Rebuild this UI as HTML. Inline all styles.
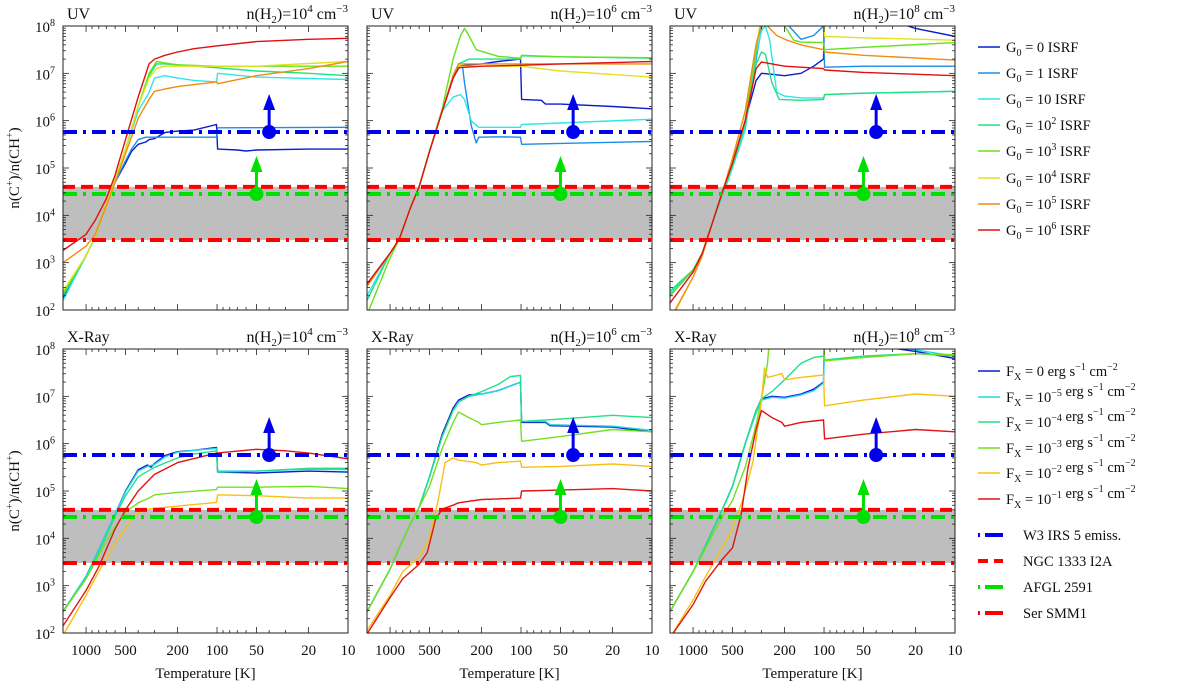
<!DOCTYPE html>
<html><head><meta charset="utf-8">
<style>
html,body{margin:0;padding:0;background:#fff;}
svg{display:block;font-family:"Liberation Serif",serif;}
</style></head>
<body>
<svg id="chart" width="1200" height="683" viewBox="0 0 1200 683" xmlns="http://www.w3.org/2000/svg"></svg>
<script>
// ===== Data (log10 of n(C+)/n(CH+) vs temperature [K]) =====
const uvLabels = ['0','1','10','10^2','10^3','10^4','10^5','10^6'];
const xLabels = ['0','-5','-4','-3','-2','-1'];
const uvColors = ['#0a1ed0','#1a8ee6','#30e6e6','#22e080','#66e020','#e2e21e','#f28c12','#e01010'];
const xColors = ['#0a1ed0','#22d6ea','#22e08a','#74e020','#f8c012','#e01414'];

// UV n=1e4
const uv4_g0=[[1500,2.25],[1000,3.15],[850,3.55],[700,4.25],[600,4.7],[500,5.1],[450,5.35],[400,5.5],[350,5.55],[330,5.6],[300,5.62],[250,5.75],[200,5.78],[150,5.8],[101,5.92],[99,5.4],[70,5.38],[60,5.36],[50,5.38],[20,5.4],[10,5.4]];
const uv4_g1=[[1500,2.3],[1000,3.15],[850,3.55],[700,4.25],[600,4.7],[500,5.15],[450,5.4],[400,5.6],[350,5.65],[300,5.65],[101,5.65],[99,5.85],[10,5.86]];
const uv4_g10=[[1500,2.2],[1000,3.15],[850,3.55],[700,4.25],[600,4.75],[500,5.4],[400,6.2],[330,6.6],[300,6.9],[250,6.95],[200,6.9],[150,6.85],[101,6.82],[99,7.0],[50,6.92],[10,6.87]];
const uv4_g100=[[1500,2.3],[1000,3.15],[850,3.55],[700,4.25],[600,4.75],[500,5.4],[400,6.3],[330,6.95],[290,7.2],[250,7.2],[200,7.18],[101,7.12],[50,7.05],[20,7.0],[10,6.95]];
const uv4_g1e3=[[1500,2.35],[1000,3.15],[850,3.55],[700,4.25],[600,4.75],[500,5.4],[400,6.3],[330,7.0],[290,7.25],[250,7.22],[200,7.18],[101,7.15],[50,7.15],[10,7.15]];
const uv4_g1e4=[[1500,2.4],[1000,3.15],[850,3.55],[700,4.25],[600,4.75],[500,5.4],[400,6.3],[330,6.9],[290,7.1],[250,7.15],[200,7.15],[101,7.15],[50,7.15],[10,7.25]];
const uv4_g1e5=[[1500,3.0],[1000,3.35],[850,3.6],[700,4.2],[600,4.7],[500,5.3],[400,6.05],[330,6.45],[300,6.62],[250,6.67],[200,6.72],[101,6.82],[99,6.78],[50,6.95],[20,7.1],[10,7.25]];
const uv4_g1e6=[[1500,3.26],[1000,3.6],[850,3.9],[700,4.35],[600,4.85],[500,5.6],[400,6.5],[330,7.2],[300,7.3],[250,7.38],[200,7.45],[150,7.52],[101,7.58],[50,7.67],[20,7.72],[10,7.74]];
// UV n=1e6
const uv6_g0=[[1500,2.55],[1000,3.2],[850,3.5],[700,4.15],[600,4.6],[500,5.35],[400,6.2],[330,6.9],[300,7.15],[250,7.18],[200,7.2],[150,7.25],[101,7.3],[99,6.45],[70,6.43],[65,6.35],[50,6.35],[20,6.3],[10,6.25]];
const uv6_g1=[[1500,2.5],[1000,3.2],[850,3.5],[700,4.15],[600,4.6],[500,5.35],[400,6.2],[330,6.9],[300,7.1],[280,7.15],[270,6.8],[240,5.9],[220,5.53],[210,5.65],[150,5.66],[101,5.65],[99,5.5],[50,5.52],[10,5.56]];
const uv6_g10=[[1500,2.3],[1000,3.2],[850,3.5],[700,4.15],[600,4.6],[500,5.35],[400,6.2],[330,6.5],[290,6.55],[270,6.45],[240,6.0],[210,5.86],[150,5.86],[101,5.86],[99,5.92],[50,5.95],[10,6.03]];
const uv6_g100=[[1500,2.2],[1000,3.2],[850,3.5],[700,4.15],[600,4.6],[500,5.35],[400,6.2],[330,6.95],[300,7.2],[250,7.3],[200,7.3],[101,7.3],[99,7.37],[50,7.35],[10,7.32]];
const uv6_g1e3=[[1500,1.9],[1000,3.1],[850,3.5],[700,4.15],[600,4.6],[500,5.35],[400,6.25],[330,7.3],[290,7.8],[270,7.95],[250,7.8],[220,7.5],[150,7.36],[101,7.32],[99,7.38],[50,7.35],[10,7.33]];
const uv6_g1e4=[[1500,2.5],[1000,3.2],[850,3.5],[700,4.15],[600,4.6],[500,5.35],[400,6.2],[330,6.9],[300,7.15],[200,7.15],[101,7.15],[50,7.05],[10,6.92]];
const uv6_g1e5=[[1500,2.5],[1000,3.2],[850,3.5],[700,4.15],[600,4.6],[500,5.35],[400,6.2],[330,6.95],[300,7.2],[200,7.2],[101,7.2],[50,7.2],[10,7.2]];
const uv6_g1e6=[[1500,2.55],[1000,3.2],[850,3.5],[700,4.15],[600,4.6],[500,5.35],[400,6.2],[330,6.9],[300,7.12],[200,7.15],[101,7.17],[50,7.2],[10,7.25]];
// UV n=1e8
const uv8_g0=[[1500,2.3],[1000,2.85],[850,3.2],[700,3.9],[580,4.6],[500,5.1],[400,6.0],[330,6.85],[300,7.0],[250,6.98],[200,6.95],[150,7.0],[120,7.15],[101,7.3],[99,8.3],[30,8.1],[20,7.95],[10,7.78]];
const uv8_g1=[[1500,2.3],[1000,2.85],[850,3.2],[700,3.9],[580,4.6],[500,5.1],[400,6.0],[330,7.3],[290,8.2],[260,8.2],[200,8.1],[150,7.72],[120,7.8],[101,8.0],[99,7.13],[50,7.15],[10,7.15]];
const uv8_g10=[[1500,2.35],[1000,2.85],[850,3.2],[700,3.9],[580,4.5],[500,5.0],[400,5.8],[330,7.4],[300,7.9],[280,8.0],[260,7.7],[230,6.6],[200,6.52],[150,6.48],[101,6.48],[99,6.55],[50,6.58],[10,6.62]];
const uv8_g100=[[1500,2.4],[1000,2.85],[850,3.2],[700,3.9],[580,4.55],[500,5.05],[400,5.9],[330,7.2],[300,7.45],[280,7.4],[250,6.8],[220,6.45],[150,6.43],[101,6.45],[99,6.55],[50,6.58],[10,6.62]];
const uv8_g1e3=[[1500,2.3],[1000,2.85],[850,3.2],[700,3.9],[580,4.6],[500,5.1],[400,6.0],[330,7.5],[300,8.2],[250,8.4],[200,8.0],[170,7.7],[150,7.66],[101,7.65],[99,7.5],[50,7.55],[10,7.65]];
const uv8_g1e4=[[1500,1.75],[1000,2.7],[850,3.15],[700,3.9],[580,4.6],[500,5.2],[400,6.2],[330,7.6],[290,8.3],[101,8.3],[99,7.78],[50,7.75],[10,7.7]];
const uv8_g1e5=[[1500,1.8],[1000,2.7],[850,3.15],[700,3.9],[580,4.6],[500,5.2],[400,6.2],[330,7.6],[290,8.2],[270,8.0],[230,7.8],[200,7.72],[150,7.6],[101,7.5],[99,7.45],[50,7.38],[10,7.28]];
const uv8_g1e6=[[1500,2.15],[1000,2.8],[850,3.2],[700,3.9],[580,4.6],[500,5.1],[400,6.0],[330,7.1],[300,7.24],[250,7.2],[200,7.15],[101,7.1],[99,7.07],[50,7.02],[10,6.95]];
// X-ray n=1e4
const x4_f0=[[1500,2.45],[1000,3.2],[850,3.6],[700,4.1],[580,4.6],[500,5.0],[400,5.45],[340,5.55],[320,5.5],[300,5.58],[250,5.75],[200,5.83],[150,5.86],[101,5.92],[99,5.4],[50,5.38],[20,5.42],[10,5.4]];
const x4_f5=[[1500,2.45],[1000,3.2],[850,3.6],[700,4.1],[580,4.6],[500,4.98],[400,5.42],[340,5.52],[300,5.56],[250,5.72],[200,5.82],[150,5.86],[101,5.9],[99,5.42],[50,5.42],[20,5.46],[10,5.45]];
const x4_f4=[[1500,2.45],[1000,3.15],[850,3.55],[700,4.05],[580,4.55],[500,4.9],[400,5.3],[300,5.5],[200,5.7],[150,5.78],[101,5.85],[99,5.4],[50,5.42],[20,5.48],[10,5.48]];
const x4_f3=[[1500,2.45],[1000,3.15],[850,3.5],[700,3.95],[580,4.3],[500,4.55],[400,4.75],[330,4.85],[300,4.92],[200,4.97],[101,5.03],[99,5.08],[50,5.08],[20,5.1],[10,5.05]];
const x4_f2=[[1500,1.95],[1000,2.8],[800,3.3],[600,3.9],[450,4.4],[400,4.55],[330,4.62],[200,4.68],[101,4.76],[99,4.92],[50,4.9],[20,4.85],[10,4.85]];
const x4_f1=[[1500,2.15],[1000,2.9],[800,3.4],[600,4.2],[500,4.6],[400,5.0],[300,5.35],[200,5.6],[101,5.8],[50,5.88],[30,5.85],[20,5.8],[10,5.68]];
// X-ray n=1e6
const x6_f0=[[1500,2.45],[1000,3.35],[850,3.8],[700,4.3],[600,4.65],[500,5.3],[400,6.2],[330,6.75],[300,6.92],[250,7.03],[200,7.05],[150,7.12],[101,7.3],[99,6.45],[65,6.45],[60,6.38],[20,6.35],[10,6.25]];
const x6_f5=[[1500,2.45],[1000,3.35],[850,3.8],[700,4.3],[600,4.65],[500,5.3],[400,6.15],[330,6.7],[300,6.88],[250,7.0],[200,7.05],[150,7.12],[101,7.3],[99,6.47],[65,6.47],[60,6.4],[20,6.37],[10,6.28]];
const x6_f4=[[1500,2.45],[1000,3.35],[850,3.8],[700,4.3],[600,4.65],[500,5.3],[400,6.15],[330,6.7],[300,6.88],[250,7.0],[200,7.1],[150,7.25],[120,7.42],[101,7.44],[99,6.47],[50,6.52],[20,6.6],[10,6.55]];
const x6_f3=[[1500,2.45],[1000,3.35],[850,3.8],[700,4.3],[600,4.65],[500,5.1],[400,5.9],[330,6.45],[300,6.67],[250,6.55],[210,6.45],[200,6.4],[150,6.45],[101,6.5],[99,6.05],[50,6.15],[20,6.3],[10,6.25]];
const x6_f2=[[1500,2.05],[1000,2.8],[800,3.3],[600,3.6],[500,4.0],[430,4.8],[380,5.6],[330,5.7],[300,5.65],[220,5.6],[200,5.55],[150,5.6],[101,5.63],[99,5.5],[50,5.52],[20,5.57],[10,5.52]];
const x6_f1=[[1500,1.98],[1000,2.75],[800,3.15],[600,3.45],[520,3.7],[450,4.4],[400,4.62],[330,4.7],[300,4.75],[200,4.82],[101,4.85],[99,5.0],[50,5.02],[20,5.05],[10,5.0]];
// X-ray n=1e8
const x8_f0=[[1500,2.45],[1000,3.3],[850,3.7],[700,4.2],[600,4.6],[500,5.1],[400,6.0],[330,6.7],[300,6.95],[250,7.0],[200,6.98],[150,7.05],[120,7.15],[101,7.3],[99,8.3],[40,8.2],[30,8.02],[20,7.95],[10,7.8]];
const x8_f5=[[1500,2.45],[1000,3.3],[850,3.7],[700,4.2],[600,4.6],[500,5.1],[400,6.0],[330,6.65],[300,6.92],[250,6.98],[200,6.96],[150,7.03],[120,7.12],[101,7.28],[99,8.3],[40,8.2],[30,8.05],[20,7.98],[10,7.85]];
const x8_f4=[[1500,2.45],[1000,3.3],[850,3.7],[700,4.2],[600,4.6],[500,5.1],[400,6.0],[330,6.7],[300,6.95],[250,7.1],[200,7.35],[150,7.7],[120,7.82],[101,7.85],[99,7.77],[50,7.85],[20,7.9],[10,7.85]];
const x8_f3=[[1500,2.45],[1000,3.3],[850,3.65],[700,4.1],[600,4.45],[500,4.8],[400,5.5],[330,6.4],[300,6.95],[270,7.7],[255,8.5],[101,8.5],[99,7.75],[50,7.82],[20,7.9],[10,7.88]];
const x8_f2=[[1500,1.9],[1000,2.7],[800,3.2],[600,3.8],[500,4.2],[420,4.8],[350,5.6],[300,6.9],[285,7.6],[270,7.4],[230,7.45],[210,7.48],[200,7.35],[150,7.4],[101,7.45],[99,6.8],[50,6.92],[20,7.05],[10,7.0]];
const x8_f1=[[1500,1.9],[1000,2.6],[800,3.1],[600,3.55],[500,3.8],[430,4.5],[380,5.5],[330,6.3],[300,6.7],[250,6.55],[210,6.45],[200,6.37],[150,6.45],[101,6.5],[99,6.1],[50,6.2],[20,6.3],[10,6.25]];

// Observational references (log10 values)
const obsW3 = 5.76;       // W3 IRS 5 lower limit
const obsNGC = 4.6;       // NGC 1333 I2A
const obsAFGL = 4.45;     // AFGL 2591 lower limit
const obsSer = 3.48;      // Ser SMM1
const arrowW3T = 40, arrowAFGLT = 50;
const densLabels = ['4','6','8'];
const xTickVals = [1000,500,200,100,50,20,10];

// ===== Layout =====
const NS='http://www.w3.org/2000/svg';
const svg=document.getElementById('chart');
const lefts=[63,367,670], tops=[26,349], PW=285, PH=284;
const TMAX=1500, TMIN=10;
function el(tag,attrs,parent){const e=document.createElementNS(NS,tag);for(const k in attrs)e.setAttribute(k,attrs[k]);(parent||svg).appendChild(e);return e;}
function xs(p,T){return lefts[p]+PW*(Math.log10(TMAX)-Math.log10(T))/(Math.log10(TMAX)-Math.log10(TMIN));}
function ys(r,L){return tops[r]+PH*(8-L)/6;}

const panels=[
 {r:0,c:0,kind:'UV',curves:[uv4_g0,uv4_g1,uv4_g10,uv4_g100,uv4_g1e3,uv4_g1e4,uv4_g1e5,uv4_g1e6],colors:uvColors},
 {r:0,c:1,kind:'UV',curves:[uv6_g0,uv6_g1,uv6_g10,uv6_g100,uv6_g1e3,uv6_g1e4,uv6_g1e5,uv6_g1e6],colors:uvColors},
 {r:0,c:2,kind:'UV',curves:[uv8_g0,uv8_g1,uv8_g10,uv8_g100,uv8_g1e3,uv8_g1e4,uv8_g1e5,uv8_g1e6],colors:uvColors},
 {r:1,c:0,kind:'X-Ray',curves:[x4_f0,x4_f5,x4_f4,x4_f3,x4_f2,x4_f1],colors:xColors},
 {r:1,c:1,kind:'X-Ray',curves:[x6_f0,x6_f5,x6_f4,x6_f3,x6_f2,x6_f1],colors:xColors},
 {r:1,c:2,kind:'X-Ray',curves:[x8_f0,x8_f5,x8_f4,x8_f3,x8_f2,x8_f1],colors:xColors}
];

panels.forEach((P,i)=>{
  const L=lefts[P.c], T=tops[P.r];
  const g=el('g',{});
  
  
  const cp=el('clipPath',{id:'cp'+i},g);
  el('rect',{x:L,y:T,width:PW,height:PH},cp);
  const inner=el('g',{'clip-path':'url(#cp'+i+')'},g);
  const band=el('rect',{x:L,y:ys(P.r,obsNGC),width:PW,height:ys(P.r,obsSer)-ys(P.r,obsNGC),fill:'#bebebe'},inner);
  
  
  P.curves.forEach((cv,k)=>{
    const d=cv.map((pt,j)=>(j?'L':'M')+xs(P.c,pt[0]).toFixed(1)+','+ys(P.r,pt[1]).toFixed(1)).join(' ');
    const path=el('path',{d:d,fill:'none',stroke:P.colors[k],'stroke-width':1.4,'stroke-linejoin':'round'},inner);
    
    
  });
  const refs=[[obsNGC,'#ff0000','12 6'],[obsSer,'#ff0000','14 6 3 6'],[obsAFGL,'#00e000','14 6 3 6'],[obsW3,'#0000ee','14 6 3 6']];
  const refNames=['ngc1333-line','ser-smm1-line','afgl2591-line','w3-irs5-line'];
  refs.forEach((rf,k)=>{
    const y=ys(P.r,rf[0]);
    const ln=el('line',{x1:L,x2:L+PW,y1:y,y2:y,stroke:rf[1],'stroke-width':4,'stroke-dasharray':rf[2]},inner);
    
    
  });
  [[arrowW3T,obsW3,'#0000ee'],[arrowAFGLT,obsAFGL,'#00e000']].forEach((a,k)=>{
    const x=xs(P.c,a[0]), y=ys(P.r,a[1]);
    const ag=el('g',{},g);
    
    
    el('circle',{cx:x,cy:y,r:7,fill:a[2]},ag);
    el('line',{x1:x,x2:x,y1:y,y2:y-24,stroke:a[2],'stroke-width':3},ag);
    el('polygon',{points:`${x-6},${y-22} ${x+6},${y-22} ${x},${y-38}`,fill:a[2]},ag);
  });
  el('rect',{x:L,y:T,width:PW,height:PH,fill:'none',stroke:'#222','stroke-width':1},g);
  for(let dec=2;dec<=8;dec++){
    for(let m=1;m<=9;m++){
      const lv=dec+Math.log10(m); if(lv>8.0001)break;
      const y=ys(P.r,lv), len=m===1?6:3;
      el('line',{x1:L,x2:L+len,y1:y,y2:y,stroke:'#222','stroke-width':0.8},g);
      el('line',{x1:L+PW-len,x2:L+PW,y1:y,y2:y,stroke:'#222','stroke-width':0.8},g);
    }
    if(P.c===0){
      const t=el('text',{x:L-8,y:ys(P.r,dec)+6,'text-anchor':'end','font-size':15,fill:'#111'},g);
      
      
      t.appendChild(document.createTextNode('10'));
      const s=el('tspan',{dy:-6,'font-size':10},t); s.textContent=String(dec);
    }
  }
  for(let dec=1;dec<=3;dec++){
    for(let m=1;m<=9;m++){
      const Tv=m*Math.pow(10,dec); if(Tv>TMAX)break;
      const x=xs(P.c,Tv), len=xTickVals.includes(Tv)?6:3;
      el('line',{x1:x,x2:x,y1:T+PH,y2:T+PH-len,stroke:'#222','stroke-width':0.8},g);
      el('line',{x1:x,x2:x,y1:T,y2:T+len,stroke:'#222','stroke-width':0.8},g);
    }
  }
  if(P.r===1){
    xTickVals.forEach(v=>{
      const t=el('text',{x:xs(P.c,v),y:655,'text-anchor':'middle','font-size':15,fill:'#111'},g);
      
      
      t.textContent=String(v);
    });
    const xt=el('text',{x:L+PW/2,y:678,'text-anchor':'middle','font-size':15,fill:'#111'},g);
    
    
    xt.textContent='Temperature [K]';
  }
  const tl=el('text',{x:L+4,y:T-7,'font-size':16,fill:'#111'},g);
  
  
  tl.textContent=P.kind;
  const tr=el('text',{x:L+PW,y:T-7,'text-anchor':'end','font-size':16,fill:'#111'},g);
  
  
  tr.innerHTML='n(H<tspan dy="4" font-size="11">2</tspan><tspan dy="-4">)=10</tspan><tspan dy="-7" font-size="11">'+densLabels[P.c]+'</tspan><tspan dy="7"> cm</tspan><tspan dy="-7" font-size="11">−3</tspan>';
});

[168,491].forEach(cy=>{
  const t=el('text',{x:0,y:0,transform:`translate(19,${cy}) rotate(-90)`,'text-anchor':'middle','font-size':15,fill:'#111'});
  
  
  t.innerHTML='n(C<tspan dy="-6" font-size="10">+</tspan><tspan dy="6">)/n(CH</tspan><tspan dy="-6" font-size="10">+</tspan><tspan dy="6">)</tspan>';
});

const uvLegY=[47,73,99,125,151,178,204,230];
uvLabels.forEach((lab,k)=>{
  const g=el('g',{});
  
  
  el('line',{x1:978,x2:1000,y1:uvLegY[k],y2:uvLegY[k],stroke:uvColors[k],'stroke-width':1.5},g);
  const t=el('text',{x:1006,y:uvLegY[k]+5,'font-size':14.5,fill:'#111'},g);
  let v=lab.split('^');
  t.innerHTML='G<tspan dy="4" font-size="10">0</tspan><tspan dy="-4"> = '+v[0]+'</tspan>'+(v[1]?'<tspan dy="-6" font-size="10">'+v[1]+'</tspan><tspan dy="6"> ISRF</tspan>':'<tspan> ISRF</tspan>');
});
const xLegY=[371,397,422,448,473,499];
xLabels.forEach((lab,k)=>{
  const g=el('g',{});
  
  
  el('line',{x1:978,x2:1000,y1:xLegY[k],y2:xLegY[k],stroke:xColors[k],'stroke-width':1.5},g);
  const t=el('text',{x:1006,y:xLegY[k]+5,'font-size':14.5,fill:'#111'},g);
  const val = lab==='0' ? '<tspan dy="-4"> = 0</tspan>' : '<tspan dy="-4"> = 10</tspan><tspan dy="-6" font-size="10">'+lab.replace('-','−')+'</tspan><tspan dy="6"></tspan>';
  t.innerHTML='F<tspan dy="4" font-size="10">X</tspan>'+val+'<tspan> erg s</tspan><tspan dy="-6" font-size="10">−1</tspan><tspan dy="6"> cm</tspan><tspan dy="-6" font-size="10">−2</tspan>';
});
const obsLeg=[[535,'#0000ee','2 5 16 0','W3 IRS 5 emiss.','legend-w3'],[561,'#ff0000','10 6','NGC 1333 I2A','legend-ngc1333'],[587,'#00e000','2 5 16 0','AFGL 2591','legend-afgl2591'],[613,'#ff0000','2 5 16 0','Ser SMM1','legend-ser-smm1']];
obsLeg.forEach(o=>{
  const g=el('g',{});
  
  
  el('line',{x1:978,x2:1003,y1:o[0],y2:o[0],stroke:o[1],'stroke-width':4,'stroke-dasharray':o[2]},g);
  const t=el('text',{x:1023,y:o[0]+5,'font-size':14.5,fill:'#111'},g);
  t.textContent=o[3];
});
</script>
</body></html>
